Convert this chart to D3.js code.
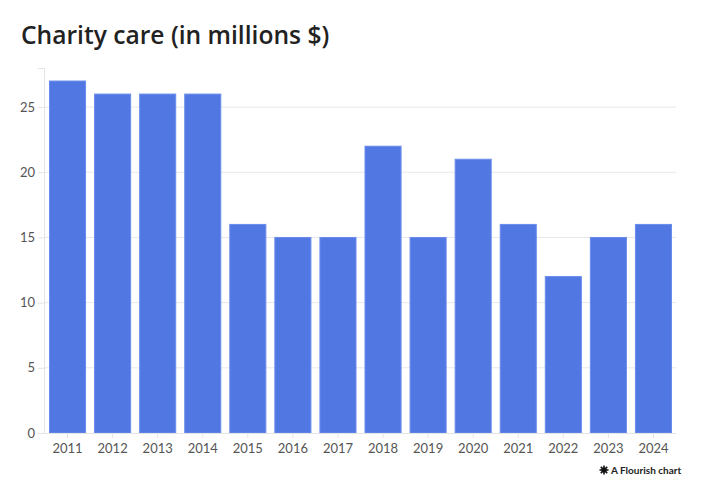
<!DOCTYPE html>
<html>
<head>
<meta charset="utf-8">
<style>
  body { margin: 0; background: #fff; }
  .tick text { font-family: Lato, "Open Sans", sans-serif; font-size: 13px; fill: #555; }
</style>
<script src="https://cdn.jsdelivr.net/npm/d3@7"></script>
</head>
<body>
<div id="chart"></div>
<script>
var years = ["2011","2012","2013","2014","2015","2016","2017","2018","2019","2020","2021","2022","2023","2024"];
var values = [27, 26, 26, 26, 16, 15, 15, 22, 15, 21, 16, 12, 15, 16];
var yTicks = [0, 5, 10, 15, 20, 25];

var W = 708, H = 500;
var svg = d3.select("#chart").append("svg").attr("width", W).attr("height", H);

svg.append("text")
  .attr("x", 21).attr("y", 44)
  .style("font-family", "'Open Sans', sans-serif")
  .style("font-weight", 600).style("font-size", "24.6px").style("fill", "#222")
  .text("Charity care (in millions $)");

var x = d3.scaleBand().domain(years).range([45, 676]).paddingInner(0.2).paddingOuter(0.1);
var y = d3.scaleLinear().domain([0, 28]).range([433, 68]);

// gridlines
svg.append("g").selectAll("line").data(yTicks.slice(1)).enter().append("line")
  .attr("x1", 44).attr("x2", 676)
  .attr("y1", function(d) { return y(d); }).attr("y2", function(d) { return y(d); })
  .style("stroke", "#e8e8e8");

var yAxis = svg.append("g").attr("transform", "translate(44,0)")
  .call(d3.axisLeft(y).tickValues(yTicks).tickSize(6).tickPadding(3));
yAxis.select(".domain").style("stroke", "#e4e4e4");
yAxis.selectAll(".tick line").style("stroke", "#e4e4e4");

svg.append("g").selectAll("rect").data(values).enter().append("rect")
  .attr("x", function(d, i) { return x(years[i]); })
  .attr("y", function(d) { return y(d); })
  .attr("width", x.bandwidth())
  .attr("height", function(d) { return y(0) - y(d); })
  .style("fill", "#5177e2")
  .style("stroke", "#6a8cec").style("stroke-width", 1);

var xAxis = svg.append("g").attr("transform", "translate(0,433)")
  .call(d3.axisBottom(x).tickSize(5).tickPadding(6));
xAxis.select(".domain").style("stroke", "#e4e4e4").attr("d", "M44,0.5H676");
xAxis.selectAll(".tick line").style("stroke", "#e4e4e4");

// footer
var foot = svg.append("g").attr("transform", "translate(604,470)");
foot.selectAll("line").data([0, 45, 90, 135]).enter().append("line")
  .attr("x1", function(d) { return -4.5 * Math.cos(d * Math.PI / 180); })
  .attr("y1", function(d) { return -4.5 * Math.sin(d * Math.PI / 180); })
  .attr("x2", function(d) { return 4.5 * Math.cos(d * Math.PI / 180); })
  .attr("y2", function(d) { return 4.5 * Math.sin(d * Math.PI / 180); })
  .style("stroke", "#111").style("stroke-width", 1.6);
foot.append("circle").attr("r", 2.5).style("fill", "#111");
svg.append("text").attr("x", 611).attr("y", 474)
  .style("font-family", "Lato, 'Open Sans', sans-serif")
  .style("font-weight", "bold").style("font-size", "10px").style("fill", "#222")
  .text("A Flourish chart");
</script>
</body>
</html>
